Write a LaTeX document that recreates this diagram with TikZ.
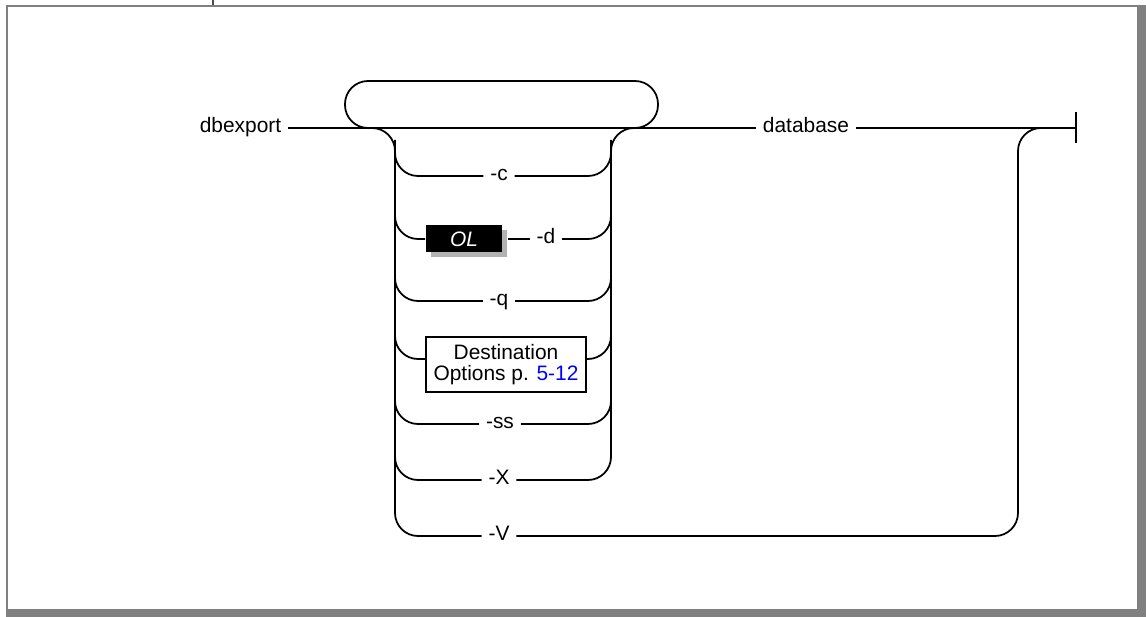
\documentclass[tikz,border=0pt]{standalone}
\usepackage{fontspec}
\setmainfont{Liberation Sans}
\usetikzlibrary{shadows}

\begin{document}
\begin{tikzpicture}[x=0.02cm,y=-0.02cm,line width=1pt,
    lbl/.style={anchor=mid,inner xsep=0.12cm,font=\fontsize{11.9}{12.2}\selectfont},
    olbox/.style={fill=black,text=white,font=\fontsize{11.9}{12.2}\selectfont\itshape,
        minimum width=1.52cm,minimum height=0.54cm,inner sep=0pt,
        drop shadow={shadow xshift=0.1cm,shadow yshift=-0.1cm,fill=black!30,opacity=1}},
    destbox/.style={draw,align=center,font=\fontsize{11.9}{12.2}\selectfont,
        minimum width=3.2cm,minimum height=1.1cm,inner sep=0pt},
    rr/.style={rounded corners=0.46cm}]
    \useasboundingbox (0,0) rectangle (1146,617);
    % page frame
    \fill[gray] (6,5) rectangle (1146,617);
    \fill[white] (8,7) rectangle (1137,609);
    \draw[gray!60!black,line width=0.6pt] (213,0) -- (213,5);
    % main line
    \node[lbl] (dbx) at (240.5,128) {dbexport};
    \node[lbl] (db) at (806,128) {database};
    \coordinate (stop) at (1076,128);
    \draw (dbx.mid east) -- (db.mid west);
    \draw (db.mid east) -- (stop);
    \draw ([yshift=0.31cm]stop) -- ([yshift=-0.31cm]stop);
    % repeat loop
    \draw[rr] (380,128) -- (345,128) -- (345,81) -- (658,81) -- (658,128) -- (620,128);
    % options
    \node[lbl] (c) at (499,176) {-c};
    \node[olbox] (ol) at (464,239) {OL};
    \node[lbl] (d) at (546,239) {-d};
    \node[lbl] (q) at (499,301) {-q};
    \node[destbox] (dest) at (506,364.5) {Destination\\Options p. \textcolor{blue}{5-12}};
    \coordinate (rowdest) at (0,359);
    \node[lbl] (ss) at (500,424) {-ss};
    \node[lbl] (X) at (499,480) {-X};
    \node[lbl] (V) at (499,536) {-V};
    % rails
    \draw[rr] (345,128) -- (395,128) |- (V.mid west);
    \draw[rr] (X.mid east) -| (611,128) -- (660,128);
    \draw[rr] (V.mid east) -| (1018,128) -- (1060,128);
    % branches
    \draw[rr] (395,140) |- (c.mid west);
    \draw[rr] (c.mid east) -| (611,140);
    \draw[rr] (395,200) |- (ol.west);
    \draw ([xshift=0.1cm]ol.east) -- (d.mid west);
    \draw[rr] (d.mid east) -| (611,200);
    \draw[rr] (395,260) |- (q.mid west);
    \draw[rr] (q.mid east) -| (611,260);
    \draw[rr] (395,320) |- (dest.west |- rowdest);
    \draw[rr] (dest.east |- rowdest) -| (611,320);
    \draw[rr] (395,385) |- (ss.mid west);
    \draw[rr] (ss.mid east) -| (611,385);
    \draw[rr] (395,440) |- (X.mid west);
\end{tikzpicture}
\end{document}
